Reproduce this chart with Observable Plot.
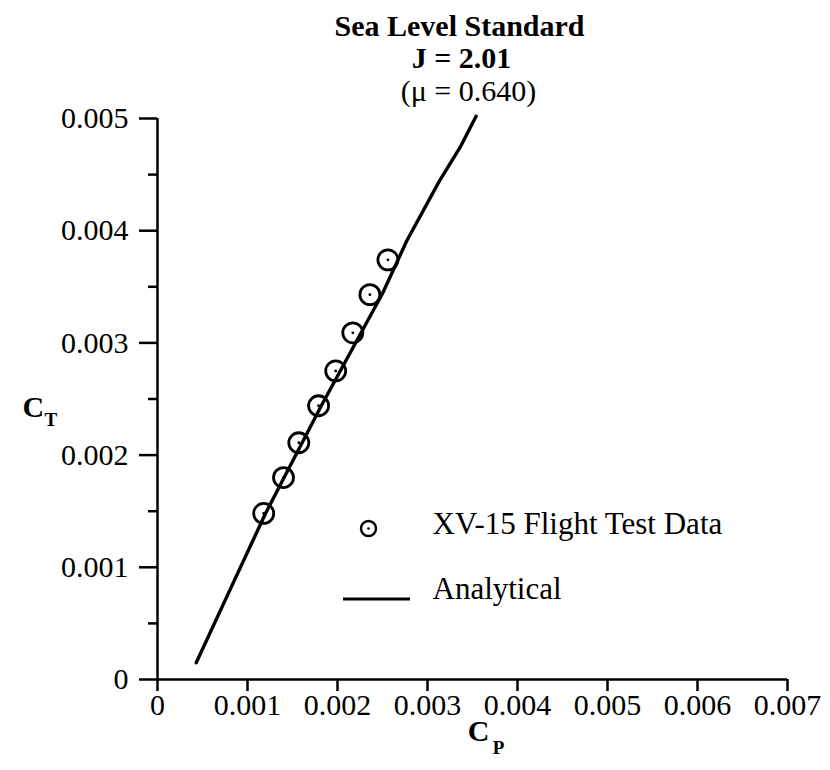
<!DOCTYPE html>
<html>
<head>
<meta charset="utf-8">
<script src="https://cdn.jsdelivr.net/npm/d3@7"></script>
<script src="https://cdn.jsdelivr.net/npm/@observablehq/plot@0.6"></script>
<style>
  html, body { margin: 0; padding: 0; background: #fff; }
  #chart { width: 830px; height: 770px; }
  svg text { font-family: "Liberation Serif", "Times New Roman", serif; }
</style>
</head>
<body>
<div id="chart"></div>
<script>
// Titles
const titleLines = ["Sea Level Standard", "J = 2.01", "(\u03bc = 0.640)"];
// Axis ticks
const xTicks = [0, 0.001, 0.002, 0.003, 0.004, 0.005, 0.006, 0.007];
const yTicks = [0, 0.001, 0.002, 0.003, 0.004, 0.005];
const yMinorTicks = [0.0005, 0.0015, 0.0025, 0.0035, 0.0045];
// Analytical curve
const analyticalCp = [0.00043, 0.00080, 0.00120, 0.00182, 0.00250, 0.00277, 0.00313, 0.00336, 0.00354];
const analyticalCt = [0.00015, 0.00079, 0.00148, 0.00244, 0.00344, 0.00391, 0.00444, 0.00474, 0.00502];
// XV-15 flight test data
const testCp = [0.00118, 0.00140, 0.00157, 0.00179, 0.00198, 0.00217, 0.00236, 0.00256];
const testCt = [0.00148, 0.00180, 0.00211, 0.00244, 0.00275, 0.00309, 0.00343, 0.00374];
// Legend labels
const legendLabels = ["XV-15 Flight Test Data", "Analytical"];

const analytical = analyticalCp.map((x, i) => ({x, y: analyticalCt[i]}));
const test = testCp.map((x, i) => ({x, y: testCt[i]}));
const fmt = d => d === 0 ? "0" : d.toFixed(3);
const serif = "Liberation Serif, Times New Roman, serif";

const chart = Plot.plot({
  width: 830,
  height: 770,
  marginLeft: 157,
  marginRight: 43,
  marginTop: 118,
  marginBottom: 91,
  style: {fontFamily: serif, background: "#fff", color: "#000"},
  x: {domain: [0, 0.007]},
  y: {domain: [0, 0.005]},
  marks: [
    Plot.axisX({ticks: xTicks, tickFormat: fmt, tickSize: 12, tickPadding: 2, fontSize: 30, strokeWidth: 2.5, label: null}),
    Plot.axisY({ticks: yTicks, tickFormat: fmt, tickSize: 18, tickPadding: 11, fontSize: 30, strokeWidth: 2.5, label: null}),
    Plot.axisY({ticks: yMinorTicks, tickSize: 9, text: null, strokeWidth: 2.5, label: null}),
    Plot.ruleX([0], {strokeWidth: 2.5}),
    Plot.ruleY([0], {strokeWidth: 2.5}),
    Plot.line(analytical, {x: "x", y: "y", stroke: "#000", strokeWidth: 3.4}),
    Plot.dot(test, {x: "x", y: "y", r: 10, stroke: "#000", strokeWidth: 2.8, fill: "none"}),
    Plot.dot(test, {x: "x", y: "y", r: 1.4, fill: "#000", stroke: null}),
    // Title
    Plot.text([titleLines[0]], {text: d => d, frameAnchor: "top", dx: -13, dy: -104, fontSize: 30, fontWeight: "bold"}),
    Plot.text([titleLines[1]], {text: d => d, frameAnchor: "top", dx: -11, dy: -72, fontSize: 30, fontWeight: "bold"}),
    Plot.text([titleLines[2]], {text: d => d, frameAnchor: "top", dx: -4, dy: -39, fontSize: 30}),
    // Axis labels C_T and C_P
    Plot.text(["C"], {text: d => d, frameAnchor: "left", dx: -135, dy: 8, fontSize: 30, fontWeight: "bold"}),
    Plot.text(["T"], {text: d => d, frameAnchor: "left", dx: -113, dy: 21, fontSize: 19, fontWeight: "bold"}),
    Plot.text(["C"], {text: d => d, frameAnchor: "bottom", dx: 6, dy: 61, fontSize: 30, fontWeight: "bold"}),
    Plot.text(["P"], {text: d => d, frameAnchor: "bottom", dx: 26, dy: 74, fontSize: 19, fontWeight: "bold"}),
    // Legend
    Plot.dot([0], {frameAnchor: "bottom-left", dx: 211, dy: -151, r: 7.5, stroke: "#000", strokeWidth: 2.4, fill: "none"}),
    Plot.dot([0], {frameAnchor: "bottom-left", dx: 211, dy: -151, r: 1.3, fill: "#000", stroke: null}),
    Plot.text([legendLabels[0]], {text: d => d, frameAnchor: "bottom-left", dx: 275, dy: -146, fontSize: 31, textAnchor: "start"}),
    Plot.text([legendLabels[1]], {text: d => d, frameAnchor: "bottom-left", dx: 275, dy: -81, fontSize: 31, textAnchor: "start"})
  ]
});

// Legend line swatch (layout element)
const svg = d3.select(chart);
svg.append("line")
  .attr("x1", 343).attr("x2", 410)
  .attr("y1", 599).attr("y2", 599)
  .attr("stroke", "#000").attr("stroke-width", 3);

document.getElementById("chart").appendChild(chart);
</script>
</body>
</html>
